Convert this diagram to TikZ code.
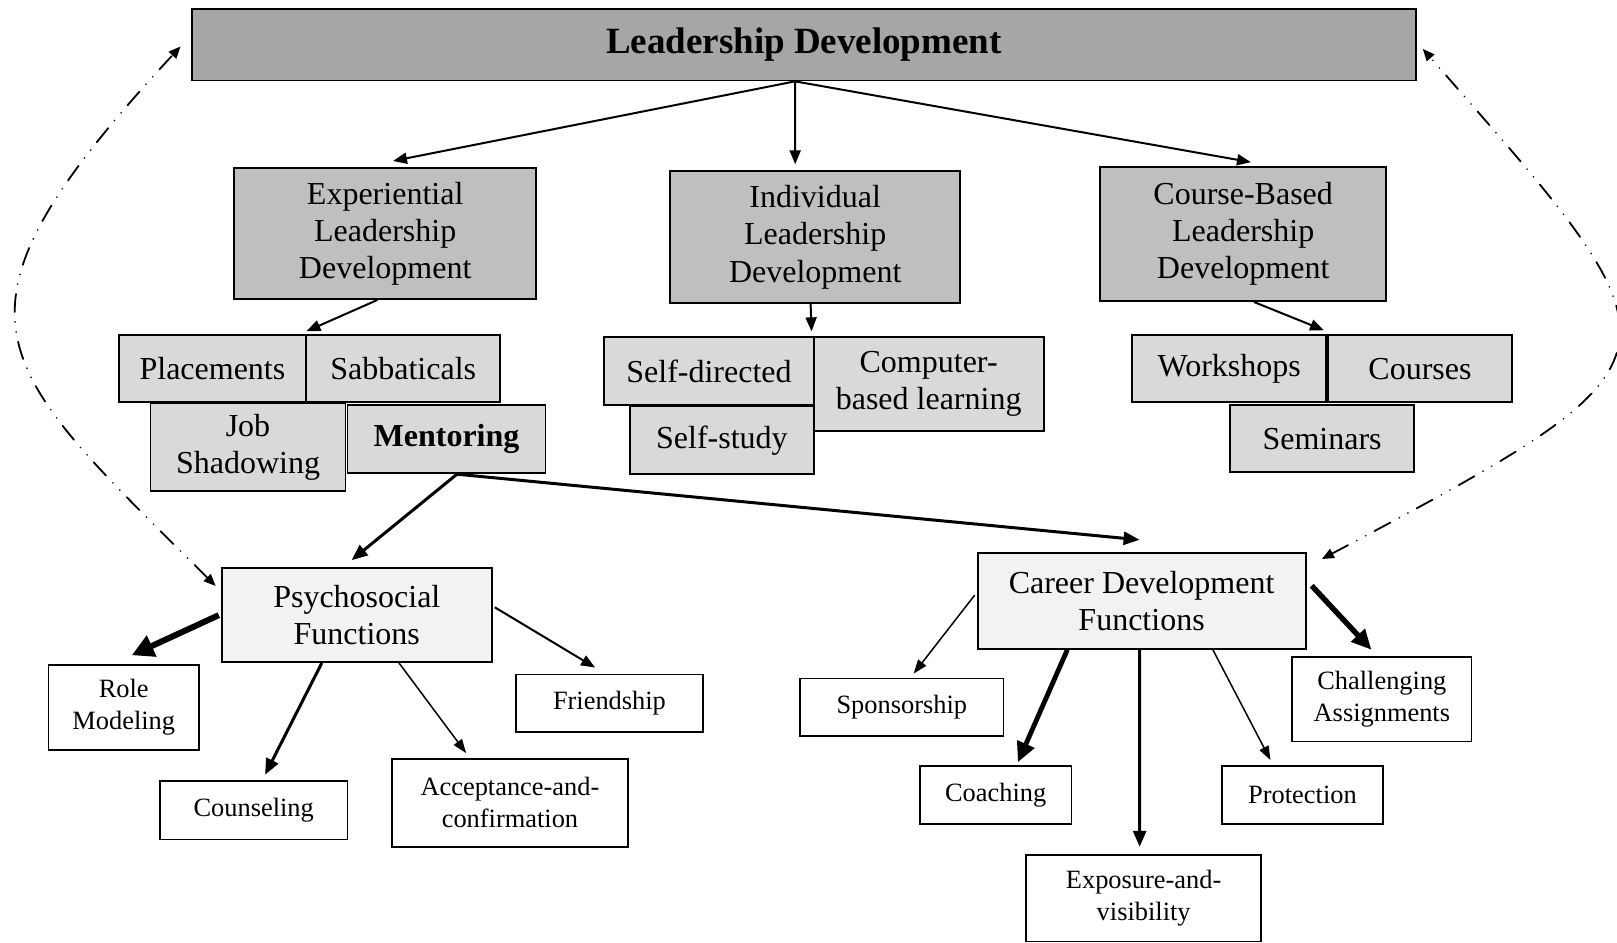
\documentclass[tikz,border=0pt]{standalone}
\usepackage{fontspec}
\setmainfont{Liberation Serif}
\usetikzlibrary{arrows.meta}
\definecolor{gA}{HTML}{A6A6A6}
\definecolor{gB}{HTML}{BFBFBF}
\definecolor{gC}{HTML}{D9D9D9}
\definecolor{gD}{HTML}{F2F2F2}
\begin{document}
\begin{tikzpicture}[x=0.515625pt,y=-0.515625pt,
  box/.style={draw=black,line width=0.9pt,align=center,inner sep=2pt},
  wh/.style 2 args={minimum width=#1pt,minimum height=#2pt},
  big/.style={box,font=\fontsize{16}{18.6}\selectfont},
  small/.style={box,fill=white,font=\fontsize{13.2}{16}\selectfont},
  arr/.style={-{Triangle[length=7pt,width=5.5pt]},line width=1pt},
  thinarr/.style={-{Triangle[length=7pt,width=5pt]},line width=0.75pt},
  midarr/.style={-{Triangle[length=8pt,width=6.5pt]},line width=1.5pt},
  heavyarr/.style={-{Triangle[length=10pt,width=9pt]},line width=2.4pt},
  vheavyarr/.style={-{Triangle[length=11pt,width=11pt]},line width=3pt},
  dd/.style={{Triangle[length=6pt,width=5pt]}-{Triangle[length=6pt,width=5pt]},line width=0.9pt,line cap=round,
    dash pattern=on 9pt off 5pt on 0pt off 5pt on 0pt off 5pt}
]
\useasboundingbox (0,0) rectangle (1568,914);

% top
\node[big,fill=gA,wh={612}{35.6},font=\fontsize{18.5}{22}\selectfont\bfseries] (top) at (779.5,43.5) {Leadership Development};

% second level
\node[big,fill=gB,wh={151.1}{65.5}] (exp) at (373.5,226.5) {Experiential\\Leadership\\Development};
\node[big,fill=gB,wh={144.9}{66}] (ind) at (790.5,230) {Individual\\Leadership\\Development};
\node[big,fill=gB,wh={142.8}{67}] (crs) at (1205.5,227) {Course-Based\\Leadership\\Development};

% third level
\node[big,fill=gC,wh={93.8}{33.5}] (plac) at (206,357.5) {Placements};
\node[big,fill=gC,wh={96.9}{33.5}] (sabb) at (391,357.5) {Sabbaticals};
\node[big,fill=gC,wh={97.5}{43.8}] (job) at (240.5,433.5) {Job\\Shadowing};
\node[big,fill=gC,wh={99}{34},font=\fontsize{16}{18.6}\selectfont\bfseries] (ment) at (433,426) {Mentoring};

\node[big,fill=gC,wh={104.7}{34}] (sdir) at (687.5,360) {Self-directed};
\node[big,fill=gC,wh={115}{46.9}] (comp) at (900.5,372.5) {Computer-\\based learning};
\node[big,fill=gC,wh={91.8}{34}] (sstu) at (700,427) {Self-study};

\node[big,fill=gC,wh={96.9}{33.5}] (work) at (1192,357.5) {Workshops};
\node[big,fill=gC,wh={91.8}{33.5}] (cour) at (1377,357.5) {Courses};
\node[big,fill=gC,wh={91.8}{33.5}] (semi) at (1282,425.5) {Seminars};

% functions
\node[big,fill=gD,wh={135.1}{46.9}] (psy) at (346,596.5) {Psychosocial\\Functions};
\node[big,fill=gD,wh={164}{48}] (car) at (1107,582.5) {Career Development\\Functions};

% leaves
\node[small,wh={75.3}{42.3}] (role) at (120,686) {Role\\Modeling};
\node[small,wh={93.8}{29.4}] (coun) at (246,785.5) {Counseling};
\node[small,wh={118.1}{43.8}] (acc) at (494.5,778.5) {Acceptance-and-\\confirmation};
\node[small,wh={93.8}{28.9}] (fri) at (591,682) {Friendship};

\node[small,wh={101.6}{28.9}] (spo) at (874.5,686) {Sponsorship};
\node[small,wh={75.8}{28.9}] (coa) at (965.5,771) {Coaching};
\node[small,wh={117.6}{43.3}] (exv) at (1109,871) {Exposure-and-\\visibility};
\node[small,wh={80.4}{28.9}] (pro) at (1263,771) {Protection};
\node[small,wh={89.7}{42.3}] (cha) at (1340,678) {Challenging\\Assignments};

% arrows from top
\draw[arr] ([xshift=-4.4pt]top.south) -- ([xshift=3.9pt,yshift=3.1pt]exp.north);
\draw[arr] ([xshift=-4.4pt]top.south) -- ([xshift=-10pt,yshift=3pt]ind.north);
\draw[arr] ([xshift=-4.4pt]top.south) -- ([xshift=3.9pt,yshift=2pt]crs.north);

\draw[arr] ([xshift=-3.9pt]exp.south) -- ([xshift=0.5pt,yshift=1.5pt]sabb.north west);
\draw[arr] ([xshift=-2.3pt]ind.south) -- ([xshift=-1.5pt,yshift=2.5pt]sdir.north east);
\draw[arr] ([xshift=5.4pt]crs.south) -- ([xshift=-1.5pt,yshift=2pt]work.north east);

% mentoring
\draw[midarr] ([xshift=5.2pt]ment.south) -- ([xshift=-2.6pt,yshift=3.6pt]psy.north);
\draw[midarr] ([xshift=5.2pt]ment.south) -- ([xshift=-1pt,yshift=6pt]car.north);

% psychosocial
\draw[vheavyarr] ([xshift=-1pt]psy.west) -- ([xshift=4pt,yshift=4.5pt]role.north);
\draw[midarr] ([xshift=-17.5pt]psy.south) -- ([xshift=5.7pt,yshift=2.5pt]coun.north);
\draw[thinarr] ([xshift=21.1pt]psy.south) -- ([xshift=-21.9pt,yshift=2.5pt]acc.north);
\draw[arr] ([xshift=1pt,yshift=3.9pt]psy.east) -- ([xshift=-7.2pt,yshift=3pt]fri.north);

% career
\draw[thinarr] ([xshift=-1pt,yshift=2.8pt]car.west) -- ([xshift=5.9pt,yshift=2pt]spo.north);
\draw[heavyarr] ([xshift=-37.1pt]car.south) -- ([xshift=11.1pt,yshift=1.5pt]coa.north);
\draw[midarr] ([xshift=-1pt]car.south) -- ([xshift=-2pt,yshift=3.6pt]exv.north);
\draw[thinarr] ([xshift=35.6pt]car.south) -- ([xshift=-16pt,yshift=2.6pt]pro.north);
\draw[heavyarr,line width=2.7pt] ([xshift=2.6pt,yshift=7.5pt]car.east) -- ([xshift=-5.2pt,yshift=3.1pt]cha.north);

% dash-dot-dot feedback curves
\draw[dd] ([xshift=-2.6pt,yshift=-9.3pt]psy.north west) .. controls (-10,350) and (-70,310) .. ([xshift=-5.2pt,yshift=-0.8pt]top.west);
\draw[dd] ([xshift=7.7pt,yshift=-3.6pt]car.north east) .. controls (1651,346) and (1642,347) .. ([xshift=3pt,yshift=-2pt]top.east);
\end{tikzpicture}
\end{document}
